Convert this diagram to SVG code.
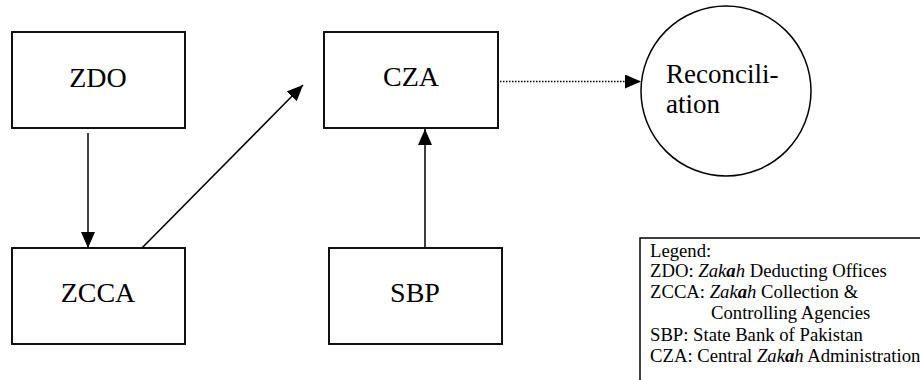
<svg xmlns="http://www.w3.org/2000/svg" width="920" height="380" viewBox="0 0 920 380">
<style>
.box{fill:#fff;stroke:#111;stroke-width:2}
.lbl{font-family:'Liberation Serif','Times New Roman',Times,'DejaVu Serif',serif;font-size:28px;fill:#000;text-anchor:middle}
.conn{stroke:#000;stroke-width:1.5;fill:none}
.dot{stroke:#000;stroke-width:1.5;fill:none;stroke-dasharray:1.5 1.5}
.rec{font-family:'Liberation Serif','Times New Roman',Times,'DejaVu Serif',serif;font-size:27px;fill:#000}
.leg{font-family:'Liberation Serif','Times New Roman',Times,'DejaVu Serif',serif;font-size:18.7px;fill:#000}
.it{font-style:italic}
.bi{font-style:italic;font-weight:bold}
</style>
<defs>
<marker id="ah" markerUnits="userSpaceOnUse" markerWidth="16" markerHeight="14" refX="16" refY="7" orient="auto">
<path d="M0,0 L16,7 L0,14 z" fill="#000"/>
</marker>
</defs>
<rect width="920" height="380" fill="#fff"/>
<g id="connectors">
<line class="conn" x1="88" y1="133" x2="88" y2="248" marker-end="url(#ah)"/>
<line class="conn" x1="137" y1="253" x2="303" y2="85" marker-end="url(#ah)"/>
<line class="conn" x1="425" y1="248" x2="425" y2="129" marker-end="url(#ah)"/>
<line class="dot" x1="500" y1="81.5" x2="641" y2="81.5" marker-end="url(#ah)"/>
</g>
<g id="ZDO">
<rect class="box" x="12" y="32" width="173" height="96"/>
<text class="lbl" x="98" y="87">ZDO</text>
</g>
<g id="ZCCA">
<rect class="box" x="12" y="248" width="173" height="96"/>
<text class="lbl" x="98" y="302">ZCCA</text>
</g>
<g id="CZA">
<rect class="box" x="324" y="32" width="174" height="96"/>
<text class="lbl" x="411" y="86">CZA</text>
</g>
<g id="SBP">
<rect class="box" x="329" y="248" width="173" height="96"/>
<text class="lbl" x="415" y="302">SBP</text>
</g>
<g id="Reconciliation">
<circle cx="726" cy="91" r="85" fill="#fff" stroke="#000" stroke-width="1.5"/>
<text class="rec" x="666" y="83">Reconcili-</text>
<text class="rec" x="666" y="113">ation</text>
</g>
<g id="legend">
<rect x="640" y="238" width="300" height="200" fill="#fff" stroke="#000" stroke-width="1.5"/>
<text class="leg" x="650" y="257">Legend:</text>
<text class="leg" x="650" y="277">ZDO: <tspan class="it">Zak</tspan><tspan class="bi">a</tspan><tspan class="it">h</tspan> Deducting Offices</text>
<text class="leg" x="650" y="298">ZCCA: <tspan class="it">Zak</tspan><tspan class="bi">a</tspan><tspan class="it">h</tspan> Collection &amp;</text>
<text class="leg" x="711" y="319">Controlling Agencies</text>
<text class="leg" x="650" y="341">SBP: State Bank of Pakistan</text>
<text class="leg" x="650" y="362">CZA: Central <tspan class="it">Zak</tspan><tspan class="bi">a</tspan><tspan class="it">h</tspan> Administration</text>
</g>
</svg>
